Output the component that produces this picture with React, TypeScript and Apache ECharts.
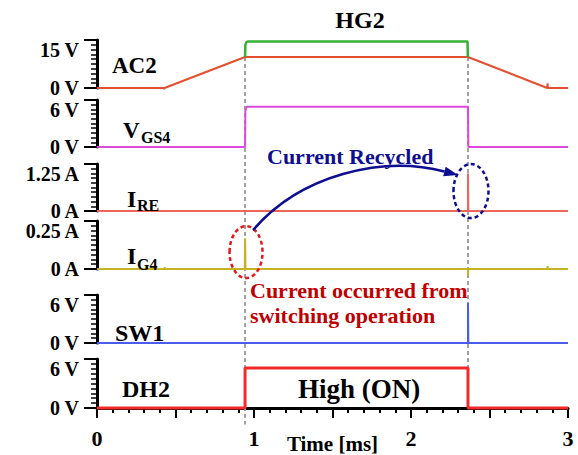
import React, { useEffect, useRef } from "react";
import * as echarts from "echarts";

// ---- data (time in ms, values in panel units) ----
const ac2Data = [[0, 0], [0.427, 0], [0.428, -0.4], [0.43, 0], [0.943, 9.7], [2.363, 9.7], [2.868, 0], [2.87, 0], [2.87, 1.5], [2.872, 0], [3, 0]];
const hg2Data = [[0.943, 9.7], [0.945, 13.4], [0.952, 14.4], [0.96, 14.5], [2.36, 14.5], [2.362, 9.7]];
const vgs4Data = [[0, 0], [0.943, 0], [0.945, 4.6], [0.952, 5.15], [2.363, 5.15], [2.365, 0], [3, 0]];
const ireData = [[0, 0], [2.363, 0], [2.363, 1.0], [2.365, 0], [3, 0]];
const ig4Data = [[0, 0], [0.43, 0], [0.43, 0.01], [0.432, 0], [0.941, 0], [0.943, 0.16], [0.946, 0], [2.363, 0], [2.363, -0.035], [2.365, 0], [2.87, 0], [2.87, 0.015], [2.872, 0], [3, 0]];
const sw1Data = [[0, 0], [2.363, 0], [2.363, 5.0], [2.365, 0], [3, 0]];
const dh2Data = [[0, 0], [0.943, 0], [0.943, 4.9], [2.363, 4.9], [2.363, 0], [3, 0]];

const switchOn = 0.943;
const switchOff = 2.363;

const ac2Ticks = ["0 V", "15 V"];
const vgs4Ticks = ["0 V", "6 V"];
const ireTicks = ["0 A", "1.25 A"];
const ig4Ticks = ["0 A", "0.25 A"];
const sw1Ticks = ["0 V", "6 V"];
const dh2Ticks = ["0 V", "6 V"];
const xTicks = [0, 1, 2, 3];

const FF = '"Liberation Serif", "Times New Roman", serif';

export default function App() {
  const ref = useRef<HTMLDivElement>(null);
  useEffect(() => {
    const chart = echarts.init(ref.current!, null, { renderer: "svg" });
    const grids = [
      { top: 40, height: 48 },
      { top: 100, height: 47 },
      { top: 164, height: 47 },
      { top: 221, height: 48 },
      { top: 295, height: 48 },
      { top: 359, height: 49 },
    ].map((g) => ({ left: 97, right: 10, outerBoundsMode: "none", containLabel: false, ...g }));

    const yAx = (gi: number, max: number, labels: string[]) => ({
      gridIndex: gi,
      type: "value",
      min: 0,
      max,
      interval: max,
      position: "left",
      offset: 4,
      axisLine: { show: true, lineStyle: { color: "#000", width: 3 } },
      axisTick: { show: true, length: 13, lineStyle: { color: "#000", width: 2 } },
      minorTick: { show: true, splitNumber: 10, length: 6, lineStyle: { color: "#000", width: 1.5 } },
      splitLine: { show: false },
      minorSplitLine: { show: false },
      axisLabel: {
        formatter: (v: number) => (v === 0 ? labels[0] : labels[1]),
        fontFamily: FF,
        fontWeight: "bold",
        fontSize: 20,
        color: "#000",
        margin: 14,
        verticalAlignMaxLabel: "top",
      },
    });

    const xAx = (gi: number, show: boolean) => ({
      gridIndex: gi,
      type: "value",
      min: 0,
      max: 3,
      interval: 0.5,
      show,
      position: "bottom",
      offset: 7,
      axisLine: { show: true, lineStyle: { color: "#000", width: 3 } },
      axisTick: { show: true, length: 10, lineStyle: { color: "#000", width: 2 } },
      minorTick: { show: true, splitNumber: 5, length: 5, lineStyle: { color: "#000", width: 2 } },
      splitLine: { show: false },
      minorSplitLine: { show: false },
      axisLabel: {
        formatter: (v: number) => (xTicks.includes(v) ? String(v) : ""),
        fontFamily: FF,
        fontWeight: "bold",
        fontSize: 22,
        color: "#000",
        margin: 12,
      },
      name: show ? "Time [ms]" : "",
      nameLocation: "middle",
      nameGap: 18,
      nameMoveOverlap: false,
      nameTextStyle: { fontFamily: FF, fontWeight: "bold", fontSize: 21, color: "#000" },
    });

    const line = (gi: number, data: number[][], color: string, width: number, z = 3) => ({
      type: "line",
      xAxisIndex: gi,
      yAxisIndex: gi,
      data,
      showSymbol: false,
      symbol: "none",
      clip: false,
      z,
      lineStyle: { color, width },
    });

    chart.setOption({
      animation: false,
      backgroundColor: "#fff",
      grid: grids,
      xAxis: [0, 1, 2, 3, 4, 5].map((i) => xAx(i, i === 5)),
      yAxis: [
        yAx(0, 15, ac2Ticks),
        yAx(1, 6, vgs4Ticks),
        yAx(2, 1.25, ireTicks),
        yAx(3, 0.25, ig4Ticks),
        yAx(4, 6, sw1Ticks),
        yAx(5, 6, dh2Ticks),
      ],
      series: [
        line(0, ac2Data, "#e4502f", 2),
        line(0, hg2Data, "#34b034", 2.5, 4),
        line(1, vgs4Data, "#dc48dc", 2),
        line(2, ireData, "#f0655a", 2),
        line(3, ig4Data, "#c4b424", 2),
        line(4, sw1Data, "#4a5cec", 2),
        line(5, dh2Data, "#f42a2a", 3),
      ],
    });

    const px = (gi: number, x: number, y: number) =>
      chart.convertToPixel({ gridIndex: gi }, [x, y]) as number[];

    const onTop = px(0, switchOn, 9.7);
    const offTop = px(0, switchOff, 9.7);
    const onBottom = px(5, switchOn, -0.3);
    const offBottom = px(5, switchOff, 4.9);
    const redC = px(3, switchOn, 0.088);
    const blueC = px(2, switchOff, 0.53);
    const bx = blueC[0] + 3;

    const start = [redC[0] + 8, redC[1] - 22];
    const tip = [bx - 13, blueC[1] - 16];
    const c1 = [start[0] + 47, start[1] - 55];
    const c2 = [tip[0] - 76, tip[1] - 20];
    const dx = tip[0] - c2[0];
    const dy = tip[1] - c2[1];
    const dl = Math.hypot(dx, dy);
    const ux = dx / dl, uy = dy / dl;
    const base = [tip[0] - 14 * ux, tip[1] - 14 * uy];
    const nx = -uy, ny = ux;

    const navy = "#0e0e92";
    const darkRed = "#c00000";
    const txt = (text: string, x: number, y: number, size: number, fill = "#000", align = "left") => ({
      type: "text",
      x,
      y,
      z: 10,
      style: {
        text,
        fill,
        font: `bold ${size}px ${FF}`,
        align,
        verticalAlign: "middle",
      },
    });

    chart.setOption({
      graphic: [
        {
          type: "line",
          z: 1,
          shape: { x1: onTop[0], y1: onTop[1], x2: onBottom[0], y2: onBottom[1] + 14 },
          style: { stroke: "#a0a0a0", lineWidth: 2, lineDash: [4, 3] },
        },
        {
          type: "line",
          z: 1,
          shape: { x1: offTop[0], y1: offTop[1], x2: offBottom[0], y2: offBottom[1] },
          style: { stroke: "#a0a0a0", lineWidth: 2, lineDash: [4, 3] },
        },
        {
          type: "ellipse",
          z: 9,
          shape: { cx: redC[0] + 1, cy: redC[1], rx: 16.5, ry: 26 },
          style: { fill: "none", stroke: "#e41a1a", lineWidth: 2.5, lineDash: [4, 3] },
        },
        {
          type: "ellipse",
          z: 9,
          shape: { cx: bx, cy: blueC[1], rx: 17.5, ry: 27 },
          style: { fill: "none", stroke: navy, lineWidth: 2.5, lineDash: [4, 3] },
        },
        {
          type: "bezierCurve",
          z: 9,
          shape: {
            x1: start[0], y1: start[1],
            cpx1: c1[0], cpy1: c1[1],
            cpx2: c2[0], cpy2: c2[1],
            x2: base[0], y2: base[1],
          },
          style: { fill: "none", stroke: navy, lineWidth: 2.5 },
        },
        {
          type: "polygon",
          z: 9,
          shape: {
            points: [
              [tip[0], tip[1]],
              [base[0] + 5 * nx, base[1] + 5 * ny],
              [base[0] - 5 * nx, base[1] - 5 * ny],
            ],
          },
          style: { fill: navy },
        },
        txt("HG2", 360, 20, 24, "#000", "center"),
        txt("AC2", 112, 65, 23),
        txt("V", 123, 130, 23),
        txt("GS4", 141, 137, 16),
        txt("I", 127, 199, 24),
        txt("RE", 137, 205, 16),
        txt("I", 127, 256, 24),
        txt("G4", 137, 264, 16),
        txt("SW1", 115, 333, 24),
        txt("DH2", 122, 389, 24),
        txt("High (ON)", 298, 389, 27),
        txt("Current Recycled", 267, 156, 22, navy),
        txt("Current occurred from", 250, 290, 22, darkRed),
        txt("switching operation", 250, 315, 22, darkRed),
      ],
    });

    return () => chart.dispose();
  }, []);
  return (
    <div
      ref={ref}
      style={{ position: "fixed", left: 0, top: 0, width: 578, height: 455 }}
    />
  );
}
